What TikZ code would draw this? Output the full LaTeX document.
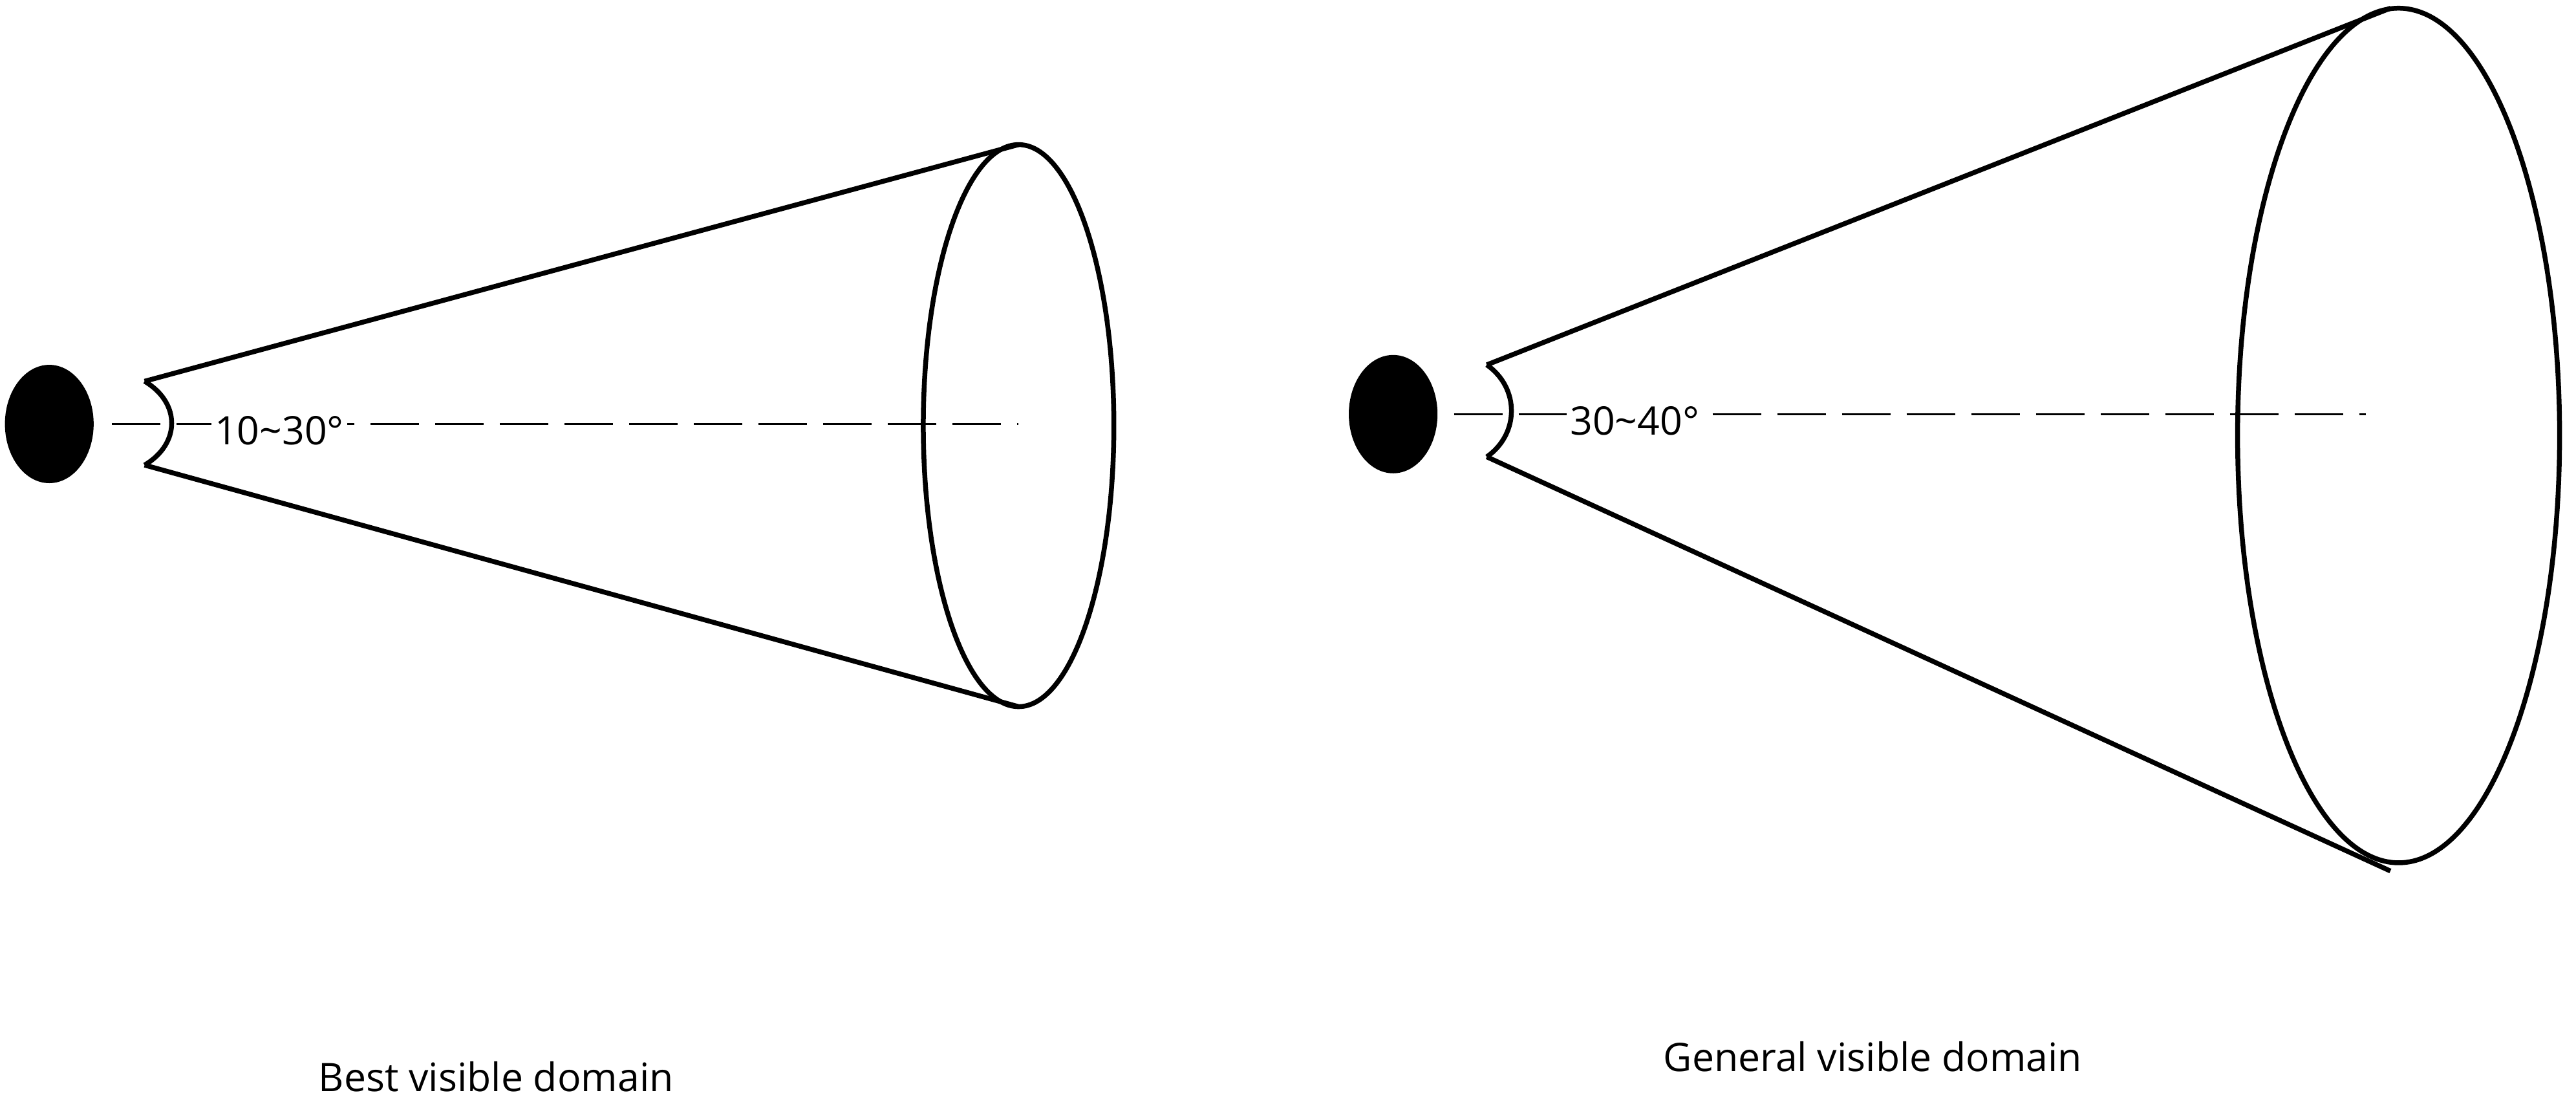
\documentclass[tikz,border=0pt]{standalone}
\usepackage{fontspec}
\setmainfont{Open Sans}
\begin{document}
\begin{tikzpicture}[x=0.05cm,y=-0.05cm,line width=4.2pt,
 eye/.style={fill=black},
 axis/.style={dash pattern=on 42pt off 14pt,line width=2pt},
 lbl/.style={font=\fontsize{34}{40}\selectfont,fill=white,inner sep=3pt},
 captxt/.style={font=\fontsize{34}{40}\selectfont}]
\useasboundingbox (0,0) rectangle (1568,673);
% left
\fill[eye] (30,258) ellipse [x radius=27,y radius=36];
\coordinate (la) at (88,232); \coordinate (lb) at (88,283);
\coordinate (lt) at (620,88); \coordinate (lbt) at (620,430);
\draw[axis] (68,258) -- (620,258);
\draw (la) -- (lt); \draw (lb) -- (lbt);
\draw (620,259) ellipse [x radius=58,y radius=171];
\draw (la) .. controls (110,245) and (110,270) .. (lb);
\node[lbl] (l1) at (170,262) {10\textasciitilde30°};
\node[captxt] (c1) at (302,655) {Best visible domain};
% right
\fill[eye] (848,252) ellipse [x radius=27,y radius=36];
\coordinate (ra) at (905,222); \coordinate (rb) at (905,278);
\coordinate (rt) at (1455,5); \coordinate (rbt) at (1455,530);
\draw[axis] (885,252) -- (1440,252);
\draw (ra) -- (rt); \draw (rb) -- (rbt);
\draw (1460,265) ellipse [x radius=98,y radius=260];
\draw (ra) .. controls (925,236) and (925,264) .. (rb);
\node[lbl] (l2) at (995,256) {30\textasciitilde40°};
\node[captxt] (c2) at (1140,643) {General visible domain};
\end{tikzpicture}
\end{document}
